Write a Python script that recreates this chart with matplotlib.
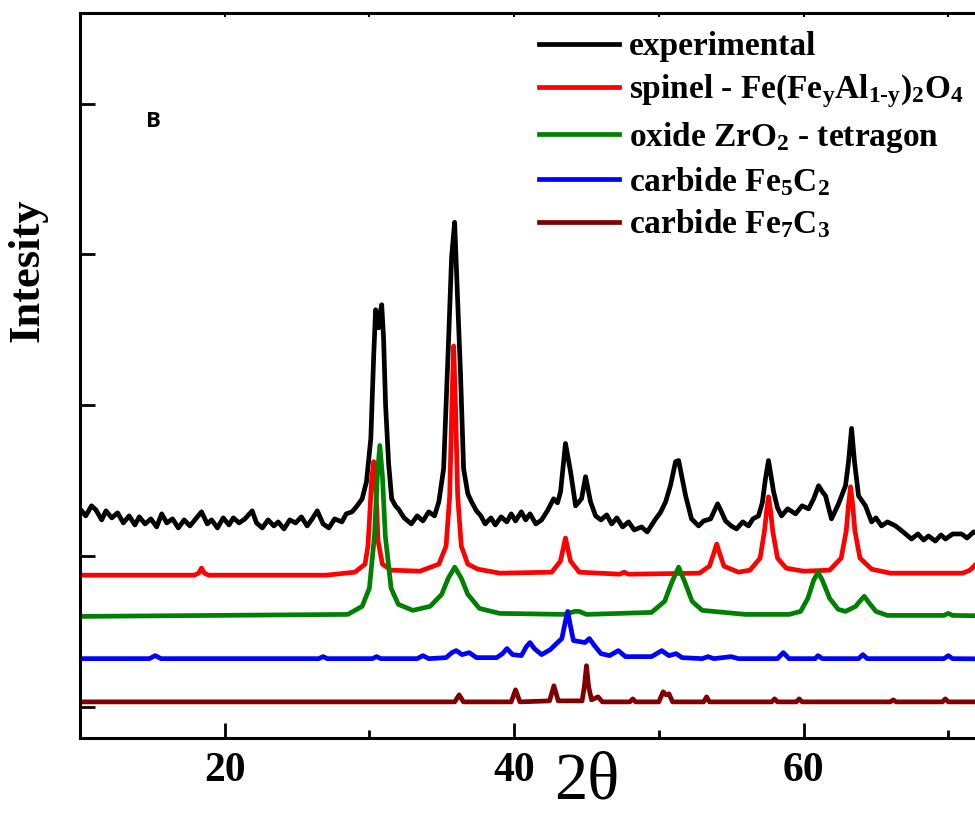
import matplotlib
matplotlib.use("Agg")
import matplotlib.pyplot as plt

plt.rcParams["font.family"] = ["Liberation Serif", "DejaVu Serif"]
plt.rcParams["font.weight"] = "bold"
plt.rcParams["mathtext.fontset"] = "custom"
plt.rcParams["mathtext.rm"] = "Liberation Serif:bold"
plt.rcParams["mathtext.it"] = "Liberation Serif:bold"
plt.rcParams["mathtext.bf"] = "Liberation Serif:bold"

# Experimental pattern, (2theta, intensity a.u.).
experimental = [
    (10.0, 197), (10.4, 190), (10.8, 200), (11.1, 196), (11.5, 186), (11.8, 195),
    (12.2, 188), (12.6, 193), (13.0, 183), (13.4, 190), (13.8, 181), (14.1, 189),
    (14.5, 182), (14.9, 187), (15.3, 179), (15.65, 192), (16.0, 183), (16.4, 187),
    (16.8, 178), (17.2, 186), (17.6, 180), (18.0, 187), (18.4, 194), (18.8, 182),
    (19.1, 186), (19.5, 178), (19.9, 188), (20.3, 181), (20.6, 188), (21.0, 183),
    (21.4, 187), (21.9, 195), (22.2, 183), (22.6, 178), (23.0, 186), (23.4, 180),
    (23.7, 184), (24.1, 177), (24.5, 186), (24.9, 183), (25.3, 189), (25.7, 180),
    (26.0, 186), (26.4, 195), (26.8, 182), (27.2, 178), (27.6, 187), (28.1, 184),
    (28.4, 192), (28.8, 194), (29.1, 199), (29.5, 207), (29.8, 224), (30.1, 267),
    (30.3, 350), (30.43, 395), (30.55, 385), (30.64, 377), (30.75, 392), (30.85, 400),
    (30.98, 367), (31.12, 300), (31.33, 242), (31.54, 207), (31.8, 200), (32.0, 197),
    (32.4, 188), (32.9, 182), (33.3, 190), (33.7, 185), (34.1, 194), (34.5, 190),
    (34.8, 204), (35.13, 237), (35.47, 364), (35.68, 447), (35.89, 482), (36.03, 430),
    (36.3, 330), (36.51, 237), (36.8, 212), (37.06, 204), (37.4, 195), (37.7, 190),
    (38.0, 182), (38.4, 188), (38.7, 181), (39.1, 189), (39.5, 184), (39.8, 192),
    (40.1, 185), (40.5, 194), (40.8, 186), (41.1, 192), (41.5, 182), (41.9, 186),
    (42.3, 195), (42.73, 207), (43.0, 203), (43.21, 214), (43.55, 262), (43.9, 234),
    (44.25, 200), (44.66, 207), (44.94, 229), (45.28, 204), (45.63, 190), (46.0, 186),
    (46.4, 191), (46.74, 182), (47.1, 188), (47.5, 179), (47.91, 184), (48.3, 176),
    (48.81, 179), (49.2, 174), (49.78, 187), (50.1, 193), (50.47, 204), (50.8, 220),
    (51.16, 244), (51.37, 245), (51.6, 228), (51.85, 210), (52.26, 187), (52.75, 180),
    (53.1, 185), (53.58, 187), (54.06, 202), (54.3, 195), (54.61, 185), (55.0, 180),
    (55.37, 177), (55.8, 184), (56.2, 180), (56.5, 187), (56.89, 190), (57.15, 203),
    (57.37, 227), (57.58, 245), (57.93, 214), (58.2, 198), (58.48, 190), (58.9, 197),
    (59.45, 192), (59.9, 200), (60.35, 197), (60.7, 207), (61.04, 220), (61.3, 214),
    (61.52, 210), (61.93, 187), (62.42, 202), (62.9, 220), (63.11, 244), (63.32, 277),
    (63.52, 244), (63.8, 210), (64.28, 200), (64.7, 184), (65.0, 188), (65.39, 180),
    (65.8, 184), (66.36, 180), (66.8, 175), (67.46, 167), (67.9, 172), (68.3, 166),
    (68.64, 170), (69.1, 165), (69.5, 171), (69.81, 167), (70.3, 172), (70.92, 172),
    (71.3, 168), (71.75, 174), (72.5, 172),
]

# Reference patterns (offset for display), vertices.
spinel = [
    (10, 131), (17.9, 131), (18.2, 133), (18.4, 138), (18.6, 133), (18.9, 131),
    (27.0, 131), (29.0, 134), (29.7, 142), (29.9, 160), (30.0, 184), (30.15, 225),
    (30.3, 244), (30.45, 215), (30.6, 165), (30.9, 142), (31.5, 136), (33.5, 135),
    (34.8, 142), (35.3, 160), (35.55, 210), (35.7, 300), (35.82, 359), (35.95, 300),
    (36.1, 210), (36.35, 160), (36.8, 142), (37.5, 137), (39.0, 133), (42.6, 134),
    (43.2, 145), (43.4, 158), (43.55, 168), (43.7, 158), (43.9, 145), (44.5, 134),
    (47.3, 132), (47.6, 134), (47.9, 132), (52.8, 133), (53.5, 140), (53.85, 155),
    (54.0, 162), (54.15, 155), (54.5, 140), (55.5, 134), (56.3, 136), (57.0, 148),
    (57.3, 175), (57.45, 195), (57.58, 209), (57.72, 195), (57.87, 175), (58.2, 148),
    (58.8, 138), (60.0, 135), (61.8, 136), (62.6, 148), (62.95, 175), (63.1, 200),
    (63.25, 219), (63.4, 200), (63.55, 175), (63.9, 148), (64.7, 137), (66.0, 133),
    (71.0, 133), (71.5, 136), (72.0, 143), (72.5, 155),
]

zro2 = [
    (10, 90), (28.5, 92), (29.5, 100), (30.0, 118), (30.35, 170), (30.55, 230),
    (30.72, 260), (30.9, 230), (31.1, 170), (31.5, 118), (32.0, 102), (33.0, 96),
    (34.2, 100), (35.0, 112), (35.45, 128), (35.9, 139), (36.35, 128), (36.8, 112),
    (37.6, 98), (39.0, 93), (43.5, 92), (44.2, 95), (44.5, 95), (45.0, 92),
    (49.5, 94), (50.4, 105), (50.9, 124), (51.37, 139), (51.8, 124), (52.3, 105),
    (53.0, 96), (56.0, 92), (59.0, 92), (59.8, 95), (60.3, 108), (60.7, 126),
    (61.0, 134), (61.3, 126), (61.8, 108), (62.4, 97), (62.9, 95), (63.6, 100),
    (64.0, 107), (64.2, 110), (64.5, 104), (65.0, 95), (65.8, 91), (69.7, 91),
    (70.0, 93), (70.3, 91), (80.0, 89),
]

fe5c2 = [
    (10, 48), (14.8, 48), (15.2, 51), (15.6, 48), (26.5, 48), (26.8, 50),
    (27.1, 48), (30.2, 48), (30.5, 50), (30.8, 48), (33.3, 48), (33.7, 51),
    (34.1, 48), (35.3, 49), (35.7, 54), (36.0, 56), (36.4, 52), (36.9, 54),
    (37.4, 49), (38.8, 49), (39.2, 53), (39.5, 58), (39.9, 52), (40.5, 51),
    (40.85, 60), (41.1, 64), (41.4, 58), (41.9, 52), (42.5, 57), (43.0, 64),
    (43.3, 68), (43.5, 82), (43.7, 95), (43.9, 80), (44.1, 66), (44.5, 65),
    (44.9, 64), (45.2, 68), (45.5, 62), (46.0, 53), (46.6, 51), (47.2, 56),
    (47.7, 50), (49.5, 50), (50.2, 56), (50.7, 51), (51.2, 53), (51.6, 49),
    (53.0, 48), (53.4, 50), (53.8, 48), (55.0, 50), (55.5, 48), (58.2, 48),
    (58.6, 54), (59.0, 48), (60.8, 48), (61.0, 51), (61.3, 48), (63.8, 48),
    (64.1, 52), (64.4, 48), (69.7, 48), (70.0, 51), (70.3, 48), (80.0, 47),
]

fe7c3 = [
    (10, 5), (35.9, 5), (36.2, 12), (36.5, 5), (39.8, 5), (40.1, 17),
    (40.4, 5), (42.45, 6), (42.75, 21), (43.05, 6), (44.7, 6), (44.85, 20),
    (45.0, 41), (45.15, 20), (45.35, 7), (45.8, 10), (46.1, 5), (48.0, 5),
    (48.2, 8), (48.4, 5), (50.0, 5), (50.3, 15), (50.5, 12), (50.7, 13),
    (50.95, 5), (53.1, 5), (53.3, 10), (53.5, 5), (57.8, 5), (58.0, 8),
    (58.2, 5), (59.5, 5), (59.7, 8), (59.9, 5), (66.0, 5), (66.2, 7),
    (66.4, 5), (69.6, 5), (69.8, 8), (70.0, 5), (80.0, 5),
]

series = [
    (experimental, "black", "experimental"),
    (spinel, "#ff0000", r"spinel - Fe(Fe$_\mathrm{y}$Al$_{\mathrm{1\text{-}y}}$)$_\mathrm{2}$O$_\mathrm{4}$"),
    (zro2, "#008000", r"oxide ZrO$_\mathrm{2}$ - tetragon"),
    (fe5c2, "#0000ff", r"carbide Fe$_\mathrm{5}$C$_\mathrm{2}$"),
    (fe7c3, "#800000", r"carbide Fe$_\mathrm{7}$C$_\mathrm{3}$"),
]

fig = plt.figure(figsize=(9.75, 8.21), dpi=100)
ax = fig.add_axes([0.082, 0.101, 1.039, 0.883])

for pts, color, label in series:
    x, y = zip(*pts)
    ax.plot(x, y, color=color, lw=3.4, label=label)

ax.set_xlim(10, 80)
ax.set_ylim(-31, 690)
ax.set_xticks([20, 40, 60])
ax.set_xticks([10, 30, 50, 70], minor=True)
ax.set_yticks([0, 150, 300, 450, 600])
ax.set_yticklabels([])

ax.tick_params(axis="x", which="major", direction="in", length=11, width=2,
               labelsize=30, pad=10, top=False)
ax.tick_params(axis="x", which="minor", direction="in", length=6, width=2, top=False)
ax.tick_params(axis="y", which="major", direction="in", length=11, width=2)
for lab in ax.get_xticklabels():
    lab.set_fontweight("bold")

# small ticks along the top border
top = ax.secondary_xaxis("top")
top.set_xticks([20, 30, 40, 50, 60, 70])
top.tick_params(direction="in", length=3, width=1.5, labeltop=False)
top.spines["top"].set_visible(False)

for s in ax.spines.values():
    s.set_linewidth(2.2)

ax.set_xlabel("2θ", fontsize=48, fontweight="normal", labelpad=-28)
ax.set_ylabel("Intesity", fontsize=32, fontweight="bold")
ax.yaxis.set_label_coords(-0.032, 0.645)

ax.text(0.065, 0.85, "B", transform=ax.transAxes, fontsize=16,
        fontweight="bold", family="Open Sans", ha="left", va="center")

fig.legend(loc="upper left", bbox_to_anchor=(0.553, 0.962), frameon=False,
           fontsize=24, handlelength=2.4, handletextpad=0.3, labelspacing=0.3,
           borderpad=0, borderaxespad=0)

fig.savefig("out.png", dpi=100)
